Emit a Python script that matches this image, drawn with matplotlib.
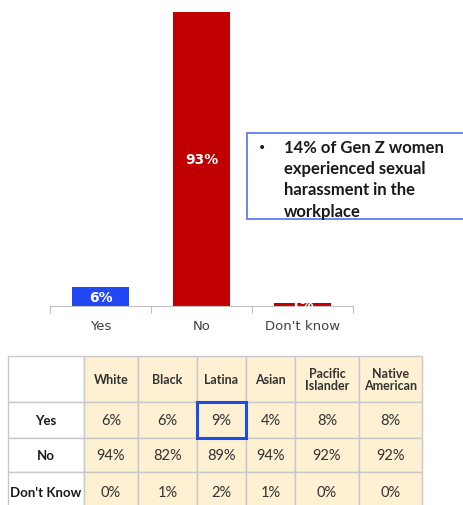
import matplotlib.pyplot as plt
from matplotlib.patches import Rectangle

# overall answers
categories = ["Yes", "No", "Don't know"]
overall_pct = [6, 93, 1]

# breakdown by race / ethnicity
groups = ["White", "Black", "Latina", "Asian", "Pacific\nIslander", "Native\nAmerican"]
row_labels = ["Yes", "No", "Don't Know"]
yes_pct = [6, 6, 9, 4, 8, 8]
no_pct = [94, 82, 89, 94, 92, 92]
dont_know_pct = [0, 1, 2, 1, 0, 0]

callout_lines = ["14% of Gen Z women", "experienced sexual", "harassment in the", "workplace"]
highlight = ("Yes", "Latina")

W, H = 464, 506
BLUE = "#2148f2"
RED = "#c00000"
CREAM = "#fdf0d3"
GRID = "#c8c8c8"
INK = "#1a1a1a"

fig = plt.figure(figsize=(W / 100, H / 100), dpi=100)

# ---- bar chart ----
ax = fig.add_axes([50 / W, (H - 307) / H, 303 / W, 294 / H])
ax.set_zorder(0)
x = range(len(categories))
bars = ax.bar(x, overall_pct, width=0.565, color=[BLUE, RED, RED])
for rect, v in zip(bars, overall_pct):
    ax.text(rect.get_x() + rect.get_width() / 2, v / 2, f"{v}%", ha="center", va="center",
            color="white", fontsize=10, fontweight="bold", family="DejaVu Sans")
ax.set_xlim(-0.5, len(categories) - 0.5)
ax.set_ylim(0, max(overall_pct))
for s in ["top", "right", "left"]:
    ax.spines[s].set_visible(False)
ax.spines["bottom"].set_color("#bfbfbf")
ax.set_yticks([])
ax.set_xticks(list(x))
ax.set_xticklabels(categories, fontsize=9.5, color="#404040")
ax.tick_params(axis="x", length=0, pad=9)
ax.set_xticks([i - 0.5 for i in range(len(categories) + 1)], minor=True)
ax.tick_params(axis="x", which="minor", length=5, color="#bfbfbf", width=0.8)

# full-figure canvas in pixel coordinates for table and callout, drawn on top
canvas = fig.add_axes([0, 0, 1, 1])
canvas.set_zorder(1)
canvas.patch.set_visible(False)
canvas.set_xlim(0, W)
canvas.set_ylim(H, 0)
canvas.axis("off")

# ---- callout box ----
canvas.add_patch(Rectangle((247, 134), 240, 86, facecolor="white", edgecolor="#5d7ef0", lw=1.3))
canvas.text(262, 148, "•", ha="center", va="center", fontsize=10, color=INK)
for i, line in enumerate(callout_lines):
    canvas.text(284, 148 + i * 21.2, line, ha="left", va="center", fontsize=12,
                fontweight="bold", family="Lato", color=INK)

# ---- table ----
col_edges = [8, 84, 138, 197, 246, 295, 359, 422]
row_edges = [357, 403, 439, 473, 515]
values = [yes_pct, no_pct, dont_know_pct]

for r in range(len(row_edges) - 1):
    for c in range(len(col_edges) - 1):
        fill = "white" if c == 0 else CREAM
        canvas.add_patch(Rectangle((col_edges[c], row_edges[r]), col_edges[c + 1] - col_edges[c],
                                   row_edges[r + 1] - row_edges[r], facecolor=fill,
                                   edgecolor=GRID, lw=1.0))

for c, g in enumerate(groups):
    cx = (col_edges[c + 1] + col_edges[c + 2]) / 2
    canvas.text(cx, 380, g, ha="center", va="center", fontsize=9, fontweight="bold",
                family="Lato", color="#333333", linespacing=1.1)

row_centers = [421, 456, 493]
for r, (lab, vals) in enumerate(zip(row_labels, values)):
    cy = row_centers[r]
    canvas.text((col_edges[0] + col_edges[1]) / 2, cy, lab, ha="center", va="center",
                fontsize=9.5, fontweight="bold", family="Lato", color=INK)
    for c, v in enumerate(vals):
        cx = (col_edges[c + 1] + col_edges[c + 2]) / 2
        canvas.text(cx, cy, f"{v}%", ha="center", va="center", fontsize=10.5,
                    family="Lato", color="#333333")

hr = row_labels.index(highlight[0])
hc = groups.index(highlight[1]) + 1
canvas.add_patch(Rectangle((col_edges[hc], row_edges[hr + 1]), col_edges[hc + 1] - col_edges[hc],
                           row_edges[hr + 2] - row_edges[hr + 1], facecolor="none",
                           edgecolor="#1d4be6", lw=2.2, zorder=5))

fig.savefig("out.png", dpi=100)
